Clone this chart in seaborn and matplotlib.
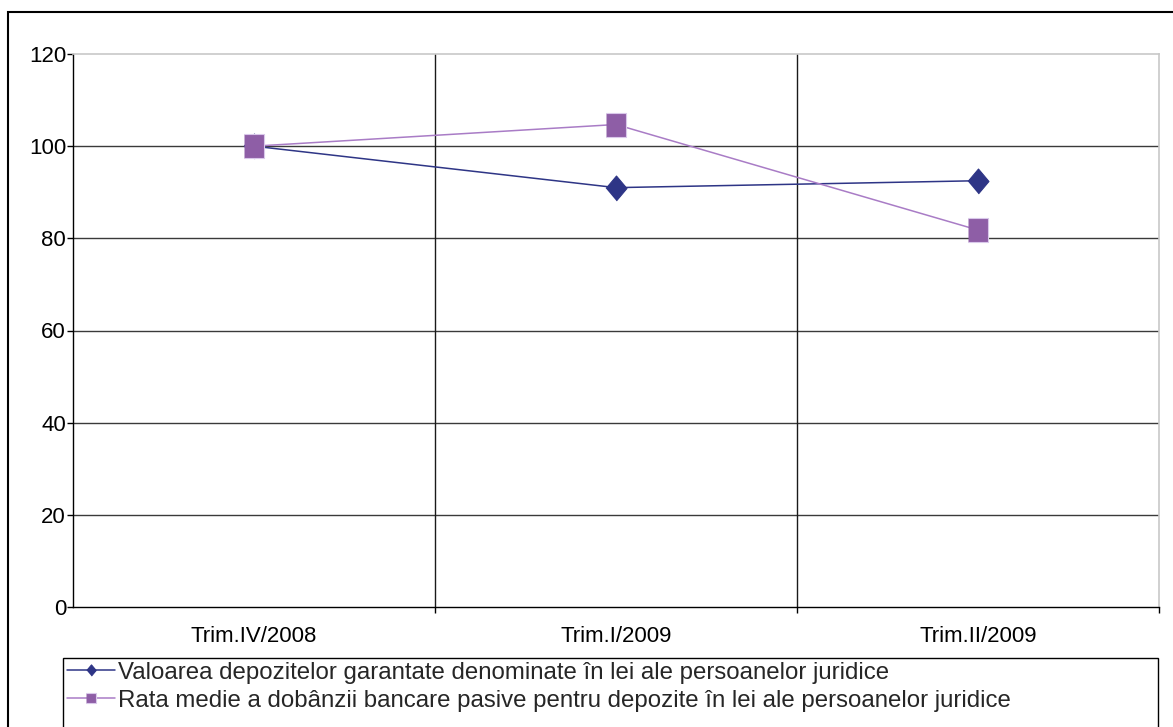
import matplotlib
matplotlib.use("Agg")
import matplotlib.pyplot as plt
import seaborn as sns
import pandas as pd
from matplotlib.patches import Rectangle

categories = ["Trim.IV/2008", "Trim.I/2009", "Trim.II/2009"]
valoarea = [100.0, 91.0, 92.5]
rata = [100.0, 104.7, 81.8]
series_names = [
    "Valoarea depozitelor garantate denominate în lei ale persoanelor juridice",
    "Rata medie a dobânzii bancare pasive pentru depozite în lei ale persoanelor juridice",
]
yticks = [0, 20, 40, 60, 80, 100, 120]

sns.set_theme(style="white")
plt.rcParams["font.family"] = ["Liberation Sans", "DejaVu Sans"]

W, H = 1173, 727
fig = plt.figure(figsize=(W / 100, H / 100), dpi=100)
ax = fig.add_axes([73 / W, 1 - 607 / H, (1159 - 73) / W, (607 - 54) / H])

df1 = pd.DataFrame({"cat": categories, "val": valoarea})
df2 = pd.DataFrame({"cat": categories, "val": rata})

diamond = [(-0.42, 0), (0, 0.5), (0.42, 0), (0, -0.5)]
square = [(-0.42, -0.5), (0.42, -0.5), (0.42, 0.5), (-0.42, 0.5)]

sns.lineplot(data=df1, x="cat", y="val", ax=ax, color="#2E3586", linewidth=1.1,
             marker=diamond, markersize=18, markeredgecolor="#2E3586",
             markerfacecolor="#2E3586", label=series_names[0], sort=False, zorder=3)
sns.lineplot(data=df2, x="cat", y="val", ax=ax, color="#A97CC6", linewidth=1.1,
             marker=square, markersize=17.5, markeredgecolor="#D9C8EA",
             markeredgewidth=0.8, markerfacecolor="#8E5EA6",
             label=series_names[1], sort=False, zorder=4)

ax.set_xlim(-0.5, len(categories) - 0.5)
ax.set_ylim(yticks[0], yticks[-1])
ax.set_yticks(yticks)
ax.set_yticklabels([str(t) for t in yticks])
ax.set_xticks(range(len(categories)))
ax.set_xticklabels(categories)
ax.set_xticks([i + 0.5 for i in range(len(categories))], minor=True)
ax.set_xlabel("")
ax.set_ylabel("")

for t in yticks[1:-1]:
    ax.axhline(t, color="#3a3a3a", linewidth=1.0, zorder=1)
for i in range(len(categories) - 1):
    ax.axvline(i + 0.5, color="#1a1a1a", linewidth=1.0, zorder=1)

ax.tick_params(axis="y", which="major", direction="out", length=4, width=1,
               color="black", pad=1, labelsize=16, labelcolor="black", left=True)
ax.tick_params(axis="x", which="major", length=0, pad=13.5, labelsize=16,
               labelcolor="black")
ax.tick_params(axis="x", which="minor", direction="out", length=4, width=1,
               color="black", bottom=True)

for side in ["left", "bottom"]:
    ax.spines[side].set_color("black")
    ax.spines[side].set_linewidth(1.0)
for side in ["top", "right"]:
    ax.spines[side].set_visible(True)
    ax.spines[side].set_color("#c8c8c8")
    ax.spines[side].set_linewidth(1.2)

handles, labels = ax.get_legend_handles_labels()
if ax.get_legend():
    ax.get_legend().remove()
leg = fig.legend(handles, labels, loc="upper left",
                 bbox_to_anchor=(63 / W, 1 - 658 / H),
                 ncol=1, fontsize=17.3, frameon=False,
                 handlelength=2.0, handletextpad=0.15,
                 borderpad=0.15, labelspacing=0.25, markerscale=0.45,
                 borderaxespad=0)

# legend box (extends past the bottom edge, as in the reference)
fig.patches.append(Rectangle((63 / W, -0.05), (1158 - 63) / W, 1 - 658 / H + 0.05,
                             transform=fig.transFigure, fill=False,
                             edgecolor="black", linewidth=1.0))
# outer chart border
fig.patches.append(Rectangle((8 / W, -0.1), 1.2, 1 - 12 / H + 0.1,
                             transform=fig.transFigure, fill=False,
                             edgecolor="black", linewidth=1.5))

fig.savefig("out.png", dpi=100)
